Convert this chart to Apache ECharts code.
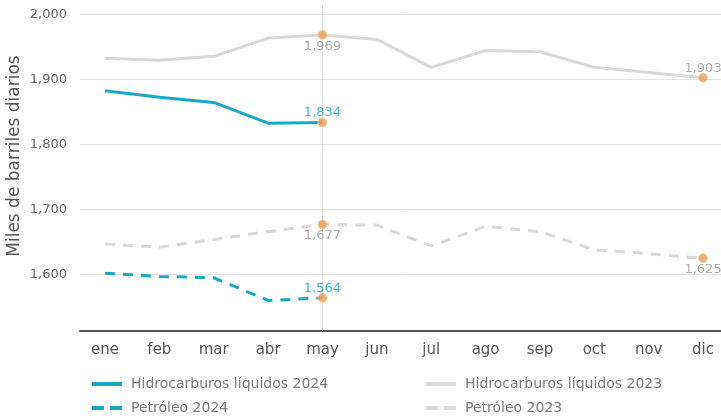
<!DOCTYPE html>
<html>
<head>
<meta charset="utf-8">
<script src="https://cdn.jsdelivr.net/npm/echarts@6/dist/echarts.min.js"></script>
<style>
  html, body { margin: 0; padding: 0; background: #fff; }
  #chart { width: 721px; height: 419px; }
</style>
</head>
<body>
<div id="chart"></div>
<script>
const months = ['ene', 'feb', 'mar', 'abr', 'may', 'jun', 'jul', 'ago', 'sep', 'oct', 'nov', 'dic']
const yTicks = [1600, 1700, 1800, 1900, 2000]

const hidro2024 = [1883, 1873, 1865, 1833, 1834]
const hidro2023 = [1933, 1930, 1936, 1964, 1969, 1962, 1919, 1945, 1943, 1919, 1911, 1903]
const petro2024 = [1602, 1597, 1595, 1560, 1564]
const petro2023 = [1647, 1642, 1654, 1666, 1677, 1676, 1644, 1674, 1666, 1638, 1632, 1625]

const blue = '#1AA6C6'
const grey = '#D9D9D9'
const font = 'DejaVu Sans'

const solidIcon = 'path://M0,0h30v4h-30z'
const dashIcon = 'path://M0,0h12v4h-12z M18,0h12v4h-12z'

const chart = echarts.init(document.getElementById('chart'))

function toPoints(values) {
  return values.map((v, i) => [i, v])
}

function lineSeries(name, values, color, dashed) {
  return {
    name: name,
    type: 'line',
    data: toPoints(values),
    symbol: 'none',
    lineStyle: {color: color, width: 3, type: dashed ? [10, 8] : 'solid'},
    itemStyle: {color: color},
    z: 2,
    silent: true
  }
}

// highlighted points (orange dot + value label)
function dotSeries(values, idx, textColor, pos) {
  return {
    type: 'scatter',
    data: [[idx, values[idx]]],
    symbolSize: 9,
    itemStyle: {color: '#E99D55', borderColor: '#F3C9A0', borderWidth: 1},
    label: {
      show: true,
      position: pos,
      distance: 0,
      offset: pos === 'top' ? [0, 2] : [0, 0],
      color: textColor,
      fontFamily: font,
      fontSize: 13,
      formatter: p => p.value[1].toLocaleString('en-US')
    },
    z: 5,
    silent: true
  }
}

function legendItem(name, icon, left, top) {
  return {
    data: [{name: name, icon: icon}],
    left: left, top: top, padding: 0,
    itemWidth: 30, itemHeight: 4,
    textStyle: {color: '#7a7a7a', fontFamily: font, fontSize: 14, padding: [0, 0, 0, 4]}
  }
}

const option = {
  animation: false,
  grid: {left: 80, right: 0, top: 5, bottom: 88, outerBoundsMode: 'none', containLabel: false},
  legend: [
    legendItem('Hidrocarburos líquidos 2024', solidIcon, 92, 377),
    legendItem('Petróleo 2024', dashIcon, 92, 401),
    legendItem('Hidrocarburos líquidos 2023', solidIcon, 426, 377),
    legendItem('Petróleo 2023', dashIcon, 426, 401)
  ],
  xAxis: {
    type: 'value',
    min: -0.46,
    max: 11.33,
    axisLine: {show: true, lineStyle: {color: '#555', width: 2}},
    axisTick: {show: false},
    splitLine: {show: false},
    axisLabel: {
      customValues: months.map((m, i) => i),
      formatter: v => months[v],
      color: '#555', fontFamily: font, fontSize: 15, margin: 12
    }
  },
  yAxis: {
    type: 'value',
    min: 1513,
    max: 2015,
    name: 'Miles de barriles diarios',
    nameLocation: 'middle',
    nameGap: 57,
    nameMoveOverlap: false,
    nameTextStyle: {color: '#555', fontFamily: font, fontSize: 17, padding: [0, 0, 0, 24]},
    axisLine: {show: false},
    axisTick: {show: false, customValues: yTicks},
    splitLine: {lineStyle: {color: '#E3E3E3', width: 1}},
    axisLabel: {
      customValues: yTicks,
      formatter: v => v.toLocaleString('en-US'),
      color: '#666', fontFamily: font, fontSize: 13, margin: 13
    }
  },
  series: [
    Object.assign(lineSeries('Hidrocarburos líquidos 2024', hidro2024, blue, false), {
      markLine: {
        silent: true,
        symbol: 'none',
        label: {show: false},
        lineStyle: {color: '#DDDDDD', width: 1, type: 'solid'},
        data: [{xAxis: 4}]
      }
    }),
    lineSeries('Petróleo 2024', petro2024, blue, true),
    lineSeries('Hidrocarburos líquidos 2023', hidro2023, grey, false),
    lineSeries('Petróleo 2023', petro2023, grey, true),
    dotSeries(hidro2023, 4, '#999', 'bottom'),
    dotSeries(hidro2024, 4, blue, 'top'),
    dotSeries(petro2023, 4, '#999', 'bottom'),
    dotSeries(petro2024, 4, blue, 'top'),
    dotSeries(hidro2023, 11, '#999', 'top'),
    dotSeries(petro2023, 11, '#999', 'bottom')
  ]
}

chart.setOption(option)
</script>
</body>
</html>
